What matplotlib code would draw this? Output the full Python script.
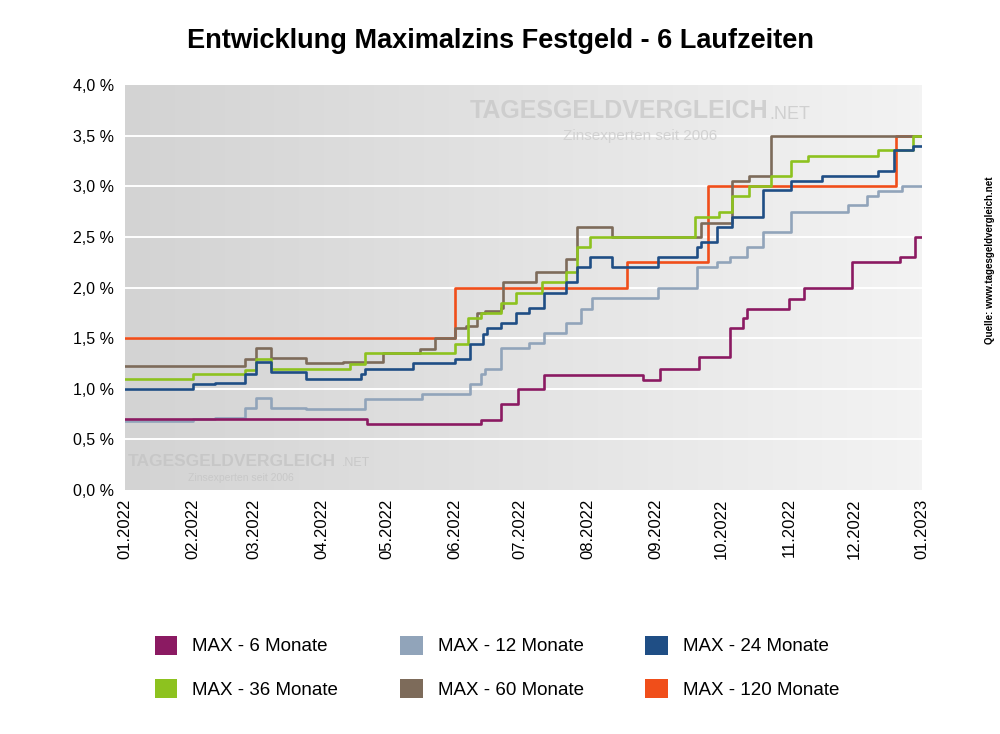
import numpy as np
import pandas as pd
import matplotlib
matplotlib.use("Agg")
import matplotlib.pyplot as plt
from matplotlib.colors import LinearSegmentedColormap
from matplotlib.patches import Patch

plt.rcParams["font.family"] = ["Liberation Sans", "DejaVu Sans"]

# Tage seit 01.01.2022 und Zinssätze (%) je Laufzeit, als Treppenfunktion
d6 = [0, 111, 163, 172, 180, 192, 237, 245, 263, 277, 283, 285, 304, 311, 333, 355, 362, 365]
v6 = [0.70, 0.65, 0.69, 0.85, 1.00, 1.14, 1.09, 1.20, 1.31, 1.60, 1.70, 1.79, 1.89, 2.00, 2.25, 2.30, 2.50, 2.50]

d12 = [0, 31, 41, 55, 60, 67, 83, 110, 136, 158, 163, 165, 172, 185, 192, 202, 209, 214, 244,
       262, 271, 277, 285, 292, 305, 331, 340, 345, 356, 365]
v12 = [0.68, 0.70, 0.71, 0.81, 0.91, 0.81, 0.80, 0.90, 0.945, 1.05, 1.15, 1.20, 1.40, 1.45, 1.55, 1.65, 1.79, 1.90, 2.00,
       2.20, 2.25, 2.30, 2.40, 2.55, 2.75, 2.81, 2.90, 2.95, 3.00, 3.00]

d24 = [0, 31, 41, 55, 60, 67, 83, 108, 110, 132, 151, 158, 164, 166, 172, 179, 185, 192, 202, 207, 213, 223,
       244, 262, 264, 271, 278, 292, 305, 319, 345, 352, 361, 365]
v24 = [1.00, 1.05, 1.06, 1.15, 1.26, 1.17, 1.10, 1.15, 1.20, 1.25, 1.29, 1.44, 1.54, 1.60, 1.65, 1.75, 1.80, 1.95, 2.05, 2.20, 2.30, 2.20,
       2.30, 2.40, 2.45, 2.60, 2.70, 2.96, 3.05, 3.10, 3.15, 3.36, 3.40, 3.40]

d36 = [0, 31, 55, 60, 67, 103, 110, 151, 157, 163, 172, 179, 191, 202, 207, 213, 261, 272, 278, 286,
       296, 305, 313, 345, 361, 365]
v36 = [1.10, 1.15, 1.19, 1.29, 1.20, 1.24, 1.35, 1.44, 1.70, 1.75, 1.85, 1.95, 2.05, 2.15, 2.40, 2.50, 2.70, 2.75, 2.90, 3.00,
       3.10, 3.25, 3.30, 3.36, 3.50, 3.50]

d60 = [0, 55, 60, 67, 83, 100, 118, 135, 142, 151, 156, 161, 165, 172, 173, 188, 202, 207, 223, 264, 278,
       286, 296, 365]
v60 = [1.22, 1.29, 1.40, 1.30, 1.25, 1.26, 1.35, 1.39, 1.50, 1.60, 1.62, 1.75, 1.77, 1.80, 2.05, 2.15, 2.28, 2.60, 2.50, 2.64, 3.05,
       3.10, 3.50, 3.50]

d120 = [0, 151, 230, 267, 353, 365]
v120 = [1.50, 2.00, 2.25, 3.00, 3.50, 3.50]

labels = ["MAX - 6 Monate", "MAX - 12 Monate", "MAX - 24 Monate",
          "MAX - 36 Monate", "MAX - 60 Monate", "MAX - 120 Monate"]
colors = ["#8b1a62", "#91a4ba", "#1f4e85", "#8dc21f", "#7d6b5a", "#f04e1a"]
series = [(d6, v6), (d12, v12), (d24, v24), (d36, v36), (d60, v60), (d120, v120)]

month_starts = pd.date_range("2022-01-01", "2023-01-01", freq="MS")
tick_days = [(m - month_starts[0]).days for m in month_starts]
tick_labels = [m.strftime("%m.%Y") for m in month_starts]

fig = plt.figure(figsize=(10, 7.34), dpi=100)
ax = fig.add_axes([0.125, 0.3324, 0.797, 0.5518])

# Hintergrund mit Verlauf
cmap = LinearSegmentedColormap.from_list("bg", ["#d3d3d3", "#f3f3f3"])
ax.imshow(np.linspace(0, 1, 256).reshape(1, -1), cmap=cmap, extent=[0, 365, 0, 4],
          aspect="auto", zorder=0)

for y in np.arange(0.5, 4.0, 0.5):
    ax.axhline(y, color="white", lw=1.4, zorder=1)

# Wasserzeichen
ax.text(0.433, 0.935, "TAGESGELDVERGLEICH", transform=ax.transAxes, fontsize=18, fontweight="bold",
        color="#c9c9c9", alpha=0.8, va="center", zorder=1)
ax.text(0.808, 0.928, ".NET", transform=ax.transAxes, fontsize=13, color="#c9c9c9", alpha=0.8,
        va="center", zorder=1)
ax.text(0.55, 0.875, "Zinsexperten seit 2006", transform=ax.transAxes, fontsize=11,
        color="#d2d2d2", va="center", zorder=1)
ax.text(0.004, 0.07, "TAGESGELDVERGLEICH", transform=ax.transAxes, fontsize=12.5, fontweight="bold",
        color="#c4c4c4", alpha=0.8, va="center", zorder=1)
ax.text(0.272, 0.066, ".NET", transform=ax.transAxes, fontsize=9, color="#c4c4c4", alpha=0.8,
        va="center", zorder=1)
ax.text(0.079, 0.03, "Zinsexperten seit 2006", transform=ax.transAxes, fontsize=7.5,
        color="#c8c8c8", va="center", zorder=1)

for (d, v), c in reversed(list(zip(series, colors))):
    ax.step(d, v, where="post", color=c, lw=1.9, zorder=3)

ax.set_xlim(0, 365)
ax.set_ylim(0, 4)
ax.set_xticks(tick_days)
ax.set_xticklabels(tick_labels, rotation=90, fontsize=12)
ax.set_yticks(np.arange(0, 4.01, 0.5))
ax.set_yticklabels([f"{y:.1f} %".replace(".", ",") for y in np.arange(0, 4.01, 0.5)], fontsize=11.5)
ax.tick_params(axis="y", length=0, pad=8)
ax.tick_params(axis="x", length=0, pad=6)
for s in ax.spines.values():
    s.set_visible(False)

fig.suptitle("Entwicklung Maximalzins Festgeld - 6 Laufzeiten", fontsize=19.5, fontweight="bold",
             x=0.5, y=0.962)
fig.text(0.99, 0.645, "Quelle: www.tagesgeldvergleich.net", rotation=90, fontsize=7,
         fontweight="bold", ha="center", va="center")

handles = [Patch(facecolor=c, edgecolor="none") for c in colors]
order = [0, 3, 1, 4, 2, 5]
fig.legend([handles[i] for i in order], [labels[i] for i in order], ncol=3, loc="center",
           bbox_to_anchor=(0.497, 0.091), frameon=False, fontsize=13.5, handlelength=1.2,
           handleheight=1.2, handletextpad=0.8, columnspacing=3.3, labelspacing=1.25)

fig.savefig("out.png", dpi=100)
